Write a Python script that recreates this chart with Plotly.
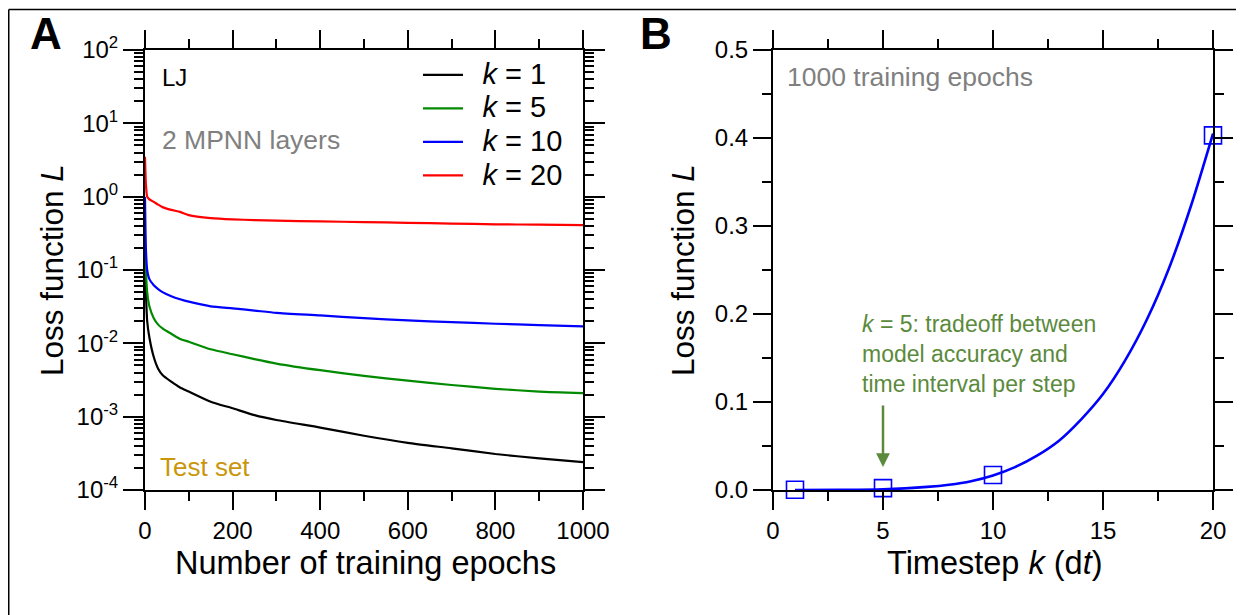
import plotly.graph_objects as go

W, H = 1244, 615
FONT = "Liberation Sans"
OFF = 8  # page body margin offset

# ---------------- Panel A data ----------------
epochs = [0, 2, 5, 10, 20, 30, 40, 60, 80, 100, 150, 200, 250, 300, 400, 500, 600, 700, 800, 900, 1000]
loss_k1 = [0.12, 0.05, 0.02, 0.012, 0.0065, 0.0045, 0.0037, 0.003, 0.0025, 0.0022, 0.0016, 0.0013,
           0.00105, 0.0009, 0.00071, 0.00055, 0.00044, 0.00037, 0.00031, 0.00027, 0.00024]
loss_k5 = [0.3, 0.1, 0.05, 0.032, 0.022, 0.018, 0.016, 0.0135, 0.0115, 0.0105, 0.0083, 0.0071,
           0.0061, 0.0053, 0.0043, 0.0036, 0.0031, 0.0027, 0.0024, 0.0022, 0.0021]
loss_k10 = [1.0, 0.2, 0.1, 0.075, 0.062, 0.055, 0.05, 0.044, 0.04, 0.037, 0.032, 0.03,
            0.028, 0.026, 0.024, 0.022, 0.0205, 0.0195, 0.0185, 0.0177, 0.017]
loss_k20 = [3.5, 1.5, 1.0, 0.92, 0.85, 0.78, 0.72, 0.66, 0.62, 0.56, 0.51, 0.49,
            0.48, 0.47, 0.46, 0.45, 0.44, 0.43, 0.42, 0.415, 0.41]
series_labels = ["1", "5", "10", "20"]
series_colors = ["#000000", "#008a00", "#0000ff", "#ff0000"]

ytick_vals_A = [1e-4, 1e-3, 1e-2, 1e-1, 1e0, 1e1, 1e2]
ytick_text_A = ["10<sup>-4</sup>", "10<sup>-3</sup>", "10<sup>-2</sup>", "10<sup>-1</sup>",
                "10<sup>0</sup>", "10<sup>1</sup>", "10<sup>2</sup>"]

# ---------------- Panel B data ----------------
k_points = [1, 5, 10, 20]
L_points = [0.0002, 0.0021, 0.017, 0.403]
k_fit = [1, 3, 5, 7, 8, 9, 10, 11, 12, 13, 14, 15, 16, 17, 18, 19, 20]
L_fit = [0.0, 0.0001, 0.0007, 0.0035, 0.006, 0.01, 0.0165, 0.026, 0.039, 0.056, 0.08,
         0.109, 0.147, 0.194, 0.252, 0.323, 0.405]


def px(x):
    return (x - OFF) / W


def py(y):
    return 1 - (y - OFF) / H


fig = go.Figure()

for vals, lab, col in zip([loss_k1, loss_k5, loss_k10, loss_k20], series_labels, series_colors):
    name = '<span style="font-size:29px">\u2002<i>k</i> = ' + lab + '</span>'
    fig.add_trace(go.Scatter(x=epochs, y=vals, mode="lines", name=name,
                             line=dict(color=col, width=2.2, shape="spline", smoothing=0.6),
                             xaxis="x", yaxis="y"))

fig.add_trace(go.Scatter(x=k_fit, y=L_fit, mode="lines", showlegend=False,
                         line=dict(color="#0000ff", width=2.6, shape="spline", smoothing=0.8),
                         xaxis="x2", yaxis="y2"))
fig.add_trace(go.Scatter(x=k_points, y=L_points, mode="markers", showlegend=False,
                         marker=dict(symbol="square-open", size=17, color="#0000ff",
                                     line=dict(width=1.6, color="#0000ff")),
                         cliponaxis=False, xaxis="x2", yaxis="y2"))

axis_common = dict(showline=True, linewidth=2, linecolor="black", mirror="allticks",
                   ticks="outside", tickwidth=2, tickcolor="black", showgrid=False,
                   zeroline=False, tickfont=dict(family=FONT, size=24, color="black"),
                   automargin=False)

minor_log = [m * 10 ** e for e in range(-4, 2) for m in range(2, 10)]

fig.update_layout(
    width=W, height=H,
    margin=dict(l=0, r=0, t=0, b=0, autoexpand=False),
    paper_bgcolor="white", plot_bgcolor="white",
    font=dict(family=FONT, color="black"),
    xaxis=dict(domain=[px(145), px(583)], range=[0, 1000], anchor="y",
               tick0=0, dtick=200, ticklen=18,
               minor=dict(dtick=100, ticklen=9, tickwidth=2, tickcolor="black", ticks="outside"),
               **axis_common),
    yaxis=dict(domain=[py(490), py(50)], type="log", range=[-4, 2], anchor="x",
               tickmode="array", tickvals=ytick_vals_A, ticktext=ytick_text_A, ticklen=20,
               minor=dict(tickmode="array", tickvals=minor_log, ticklen=9, tickwidth=2,
                          tickcolor="black", ticks="outside"),
               **axis_common),
    xaxis2=dict(domain=[px(773), px(1213)], range=[0, 20], anchor="y2",
                tick0=0, dtick=5, ticklen=18,
                minor=dict(dtick=2.5, ticklen=9, tickwidth=2, tickcolor="black", ticks="outside"),
                **axis_common),
    yaxis2=dict(domain=[py(490), py(50)], range=[0, 0.5], anchor="x2",
                tick0=0, dtick=0.1, tickformat=".1f", ticklen=18,
                minor=dict(dtick=0.05, ticklen=9, tickwidth=2, tickcolor="black", ticks="outside"),
                **axis_common),
    legend=dict(x=px(418), y=py(53), xanchor="left", yanchor="top",
                bgcolor="rgba(0,0,0,0)", font=dict(family=FONT, size=23.5, color="black"),
                itemwidth=40, tracegroupgap=0),
    showlegend=True,
)

green = "#5b8a3c"
ann = [
    dict(text="<b>A</b>", x=px(46), y=py(34), font=dict(size=44)),
    dict(text="<b>B</b>", x=px(656), y=py(33), font=dict(size=44)),
    dict(text="LJ", x=px(160), y=py(78), xanchor="left", font=dict(size=24)),
    dict(text="2 MPNN layers", x=px(160), y=py(140), xanchor="left", font=dict(size=26.5, color="#808080")),
    dict(text="Test set", x=px(158), y=py(467), xanchor="left", font=dict(size=26, color="#c9960c")),
    dict(text="1000 training epochs", x=px(785), y=py(77), xanchor="left", font=dict(size=26.5, color="#808080")),
    dict(text="Number of training epochs", x=px(365), y=py(563), font=dict(size=32.5)),
    dict(text="Timestep <i>k</i> (d<i>t</i>)", x=px(995), y=py(563), font=dict(size=32.5)),
    dict(text="Loss function <i>L</i>", x=px(52), y=py(270), textangle=-90, font=dict(size=31.5)),
    dict(text="Loss function <i>L</i>", x=px(683), y=py(270), textangle=-90, font=dict(size=31.5)),
    dict(text="<i>k</i> = 5: tradeoff between<br>model accuracy and<br>time interval per step",
         x=px(860), y=py(354), xanchor="left", align="left", font=dict(size=23, color=green)),
]
annotations = []
for a in ann:
    base = dict(xref="paper", yref="paper", showarrow=False, xanchor="center", yanchor="middle")
    base.update(a)
    f = dict(family=FONT, color="black")
    f.update(a.get("font", {}))
    base["font"] = f
    annotations.append(base)

annotations.append(dict(xref="x2", yref="y2", x=5, y=0.026, ax=0, ay=-63, text="",
                        showarrow=True, arrowhead=2, arrowsize=1.1, arrowwidth=2.5,
                        arrowcolor=green))

fig.update_layout(annotations=annotations)

# outer frame: top edge and left edge
fig.add_shape(type="line", xref="paper", yref="paper", x0=px(8.75), x1=px(1237), y0=py(9.5), y1=py(9.5),
              line=dict(color="black", width=1.5))
fig.add_shape(type="line", xref="paper", yref="paper", x0=px(8.75), x1=px(8.75), y0=py(9.5), y1=py(640),
              line=dict(color="black", width=1.5))

fig.write_html("out.html")
